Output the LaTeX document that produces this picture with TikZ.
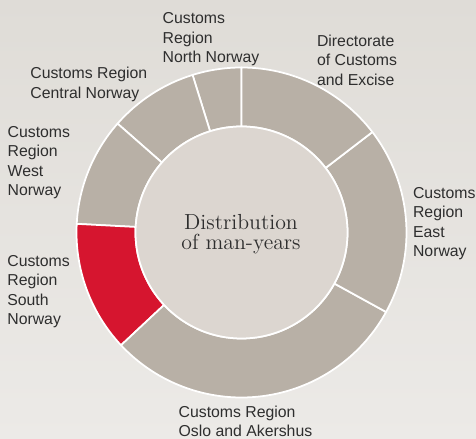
\documentclass[tikz,border=0pt]{standalone}
\usepackage{fontspec}
\newfontfamily\labelfont{Liberation Sans}
\definecolor{bgtop}{HTML}{DFDCD7}
\definecolor{bgbottom}{HTML}{ECEAE7}
\definecolor{ringgray}{HTML}{B8B0A6}
\definecolor{innerfill}{HTML}{DCD6D0}
\definecolor{southred}{HTML}{D6152F}
\definecolor{labeltext}{HTML}{2E2E2E}

\begin{document}
\begin{tikzpicture}[
    lbl/.style={anchor=base west, align=left, inner sep=0pt, text=labeltext,
      font=\labelfont\fontsize{9}{11.1}\selectfont},
    seg/.style={draw=white, line width=1pt, line join=round}]
    % Fond
    \useasboundingbox (-4.83,-4.13) rectangle (4.69,4.65);
    \shade[top color=bgtop, bottom color=bgbottom] (-4.83,-4.13) rectangle (4.69,4.65);

    % Segments de l'anneau
    \fill[seg, fill=ringgray] (90:3.3) arc[start angle=90, end angle=107.25, radius=3.3] -- (107.25:2.12) arc[start angle=107.25, end angle=90, radius=2.12] -- cycle;
    \fill[seg, fill=ringgray] (107.25:3.3) arc[start angle=107.25, end angle=138.7, radius=3.3] -- (138.7:2.12) arc[start angle=138.7, end angle=107.25, radius=2.12] -- cycle;
    \fill[seg, fill=ringgray] (138.7:3.3) arc[start angle=138.7, end angle=177, radius=3.3] -- (177:2.12) arc[start angle=177, end angle=138.7, radius=2.12] -- cycle;
    \fill[seg, fill=southred] (177:3.3) arc[start angle=177, end angle=223.1, radius=3.3] -- (223.1:2.12) arc[start angle=223.1, end angle=177, radius=2.12] -- cycle;
    \fill[seg, fill=ringgray] (223.1:3.3) arc[start angle=223.1, end angle=331.2, radius=3.3] -- (331.2:2.12) arc[start angle=331.2, end angle=223.1, radius=2.12] -- cycle;
    \fill[seg, fill=ringgray] (331.2:3.3) arc[start angle=331.2, end angle=397.5, radius=3.3] -- (397.5:2.12) arc[start angle=397.5, end angle=331.2, radius=2.12] -- cycle;
    \fill[seg, fill=ringgray] (37.5:3.3) arc[start angle=37.5, end angle=90, radius=3.3] -- (90:2.12) arc[start angle=90, end angle=37.5, radius=2.12] -- cycle;

    % Disque central
    \filldraw[fill=innerfill, draw=white, line width=1pt] (0,0) circle (2.12);
    \node[anchor=base, align=center, inner sep=0pt, text=labeltext,
      font=\fontsize{12.4}{11.8}\selectfont] (centre) at (-0.01,-0.35) {Distribution\\of man-years};

    % Etiquettes des segments (ancre sur la derniere ligne)
    \node[lbl] (north) at (-1.584,3.39) {Customs\\Region\\North Norway};
    \node[lbl] (directorate) at (1.504,2.942) {Directorate\\of Customs\\and Excise};
    \node[lbl] (central) at (-4.23,2.68) {Customs Region\\Central Norway};
    \node[lbl] (west) at (-4.684,0.732) {Customs\\Region\\West\\Norway};
    \node[lbl] (south) at (-4.69,-1.848) {Customs\\Region\\South\\Norway};
    \node[lbl] (east) at (3.424,-0.488) {Customs\\Region\\East\\Norway};
    \node[lbl] (oslo) at (-1.264,-4.088) {Customs Region\\Oslo and Akershus};
\end{tikzpicture}
\end{document}
